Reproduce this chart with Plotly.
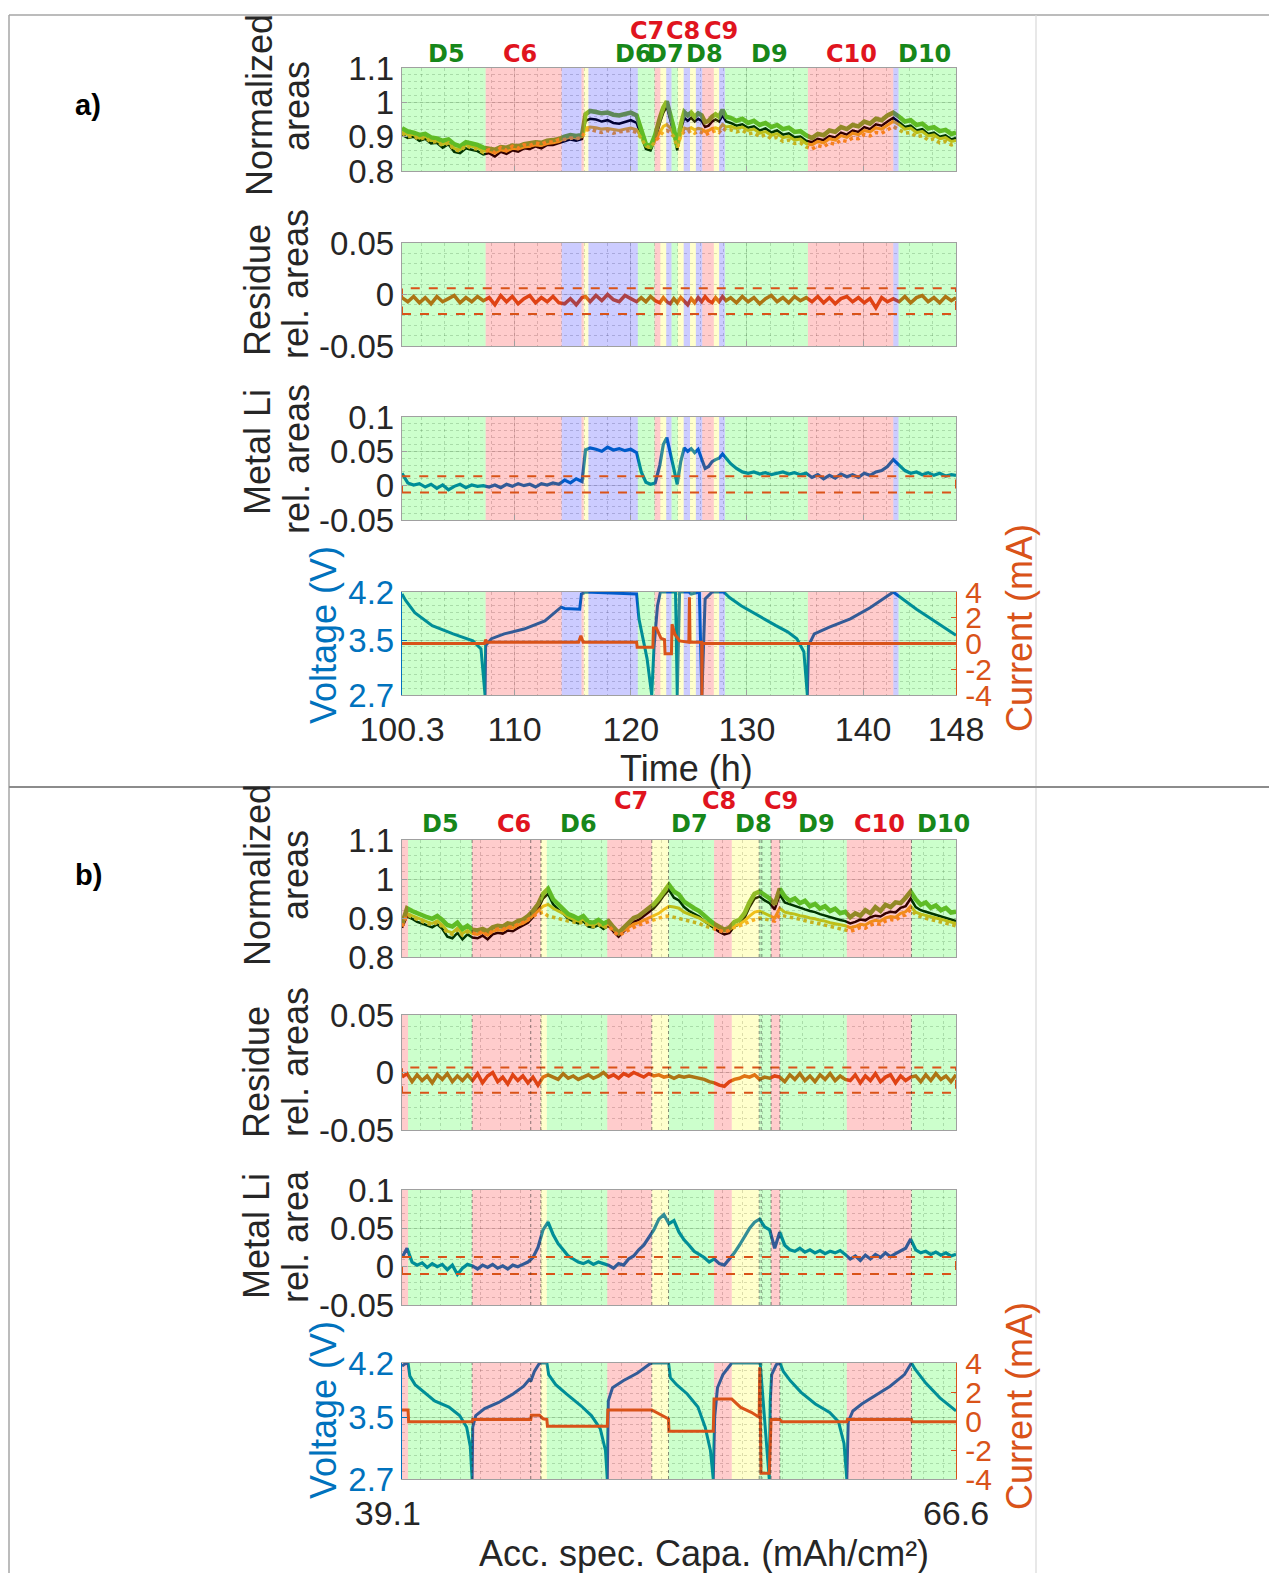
import plotly.graph_objects as go

W, H = 1269, 1573

# ===================== PANEL a : time (h) =====================
A_T = [100.3, 100.8, 101.3, 101.8, 102.3, 102.8, 103.3, 103.8, 104.3, 104.8,
       105.3, 105.8, 106.3, 106.8, 107.3, 107.8, 108.3, 108.8, 109.3, 109.8,
       110.3, 110.8, 111.3, 111.8, 112.3, 112.8, 113.3, 113.8, 114.3, 114.8,
       115.3, 115.8, 116.1, 116.5, 117.0, 117.5, 118.0, 118.5, 119.0, 119.5,
       120.0, 120.5, 120.9, 121.3, 121.7, 122.1, 122.5, 122.8, 123.1, 123.4,
       123.7, 124.0, 124.3, 124.6, 124.9, 125.2, 125.5, 125.8, 126.1, 126.4,
       126.7, 127.0, 127.3, 127.6, 127.9, 128.2, 128.6, 129.1, 129.6, 130.1,
       130.6, 131.1, 131.6, 132.1, 132.6, 133.1, 133.6, 134.1, 134.6, 135.1,
       135.6, 136.1, 136.6, 137.1, 137.6, 138.1, 138.6, 139.1, 139.6, 140.1,
       140.6, 141.1, 141.6, 142.1, 142.6, 143.1, 143.6, 144.1, 144.6, 145.1,
       145.6, 146.1, 146.6, 147.1, 147.6, 148.0]

A_GREEN = [0.925, 0.915, 0.912, 0.905, 0.908, 0.898, 0.895, 0.888, 0.892, 0.878,
           0.872, 0.884, 0.880, 0.876, 0.868, 0.866, 0.862, 0.870, 0.868, 0.874,
           0.872, 0.878, 0.880, 0.884, 0.882, 0.888, 0.890, 0.893, 0.900, 0.905,
           0.902, 0.905, 0.965, 0.975, 0.972, 0.968, 0.970, 0.964, 0.962, 0.966,
           0.970, 0.962, 0.915, 0.878, 0.872, 0.905, 0.955, 0.985, 1.003, 0.965,
           0.925, 0.872, 0.935, 0.972, 0.962, 0.970, 0.958, 0.968, 0.962, 0.942,
           0.946, 0.958, 0.965, 0.958, 0.978, 0.958, 0.955, 0.946, 0.952, 0.940,
           0.946, 0.934, 0.940, 0.928, 0.934, 0.922, 0.926, 0.914, 0.916, 0.904,
           0.896, 0.908, 0.904, 0.918, 0.914, 0.928, 0.922, 0.934, 0.930, 0.944,
           0.938, 0.952, 0.948, 0.962, 0.970, 0.958, 0.944, 0.948, 0.934, 0.938,
           0.924, 0.928, 0.916, 0.920, 0.908, 0.912]
A_BLACK = [0.905, 0.896, 0.900, 0.888, 0.894, 0.880, 0.882, 0.868, 0.878, 0.856,
           0.852, 0.866, 0.862, 0.858, 0.848, 0.852, 0.842, 0.856, 0.850, 0.860,
           0.856, 0.866, 0.864, 0.872, 0.866, 0.876, 0.876, 0.882, 0.886, 0.892,
           0.888, 0.893, 0.946, 0.952, 0.950, 0.944, 0.948, 0.940, 0.938, 0.944,
           0.948, 0.940, 0.902, 0.864, 0.860, 0.892, 0.940, 0.970, 0.988, 0.950,
           0.910, 0.860, 0.920, 0.955, 0.946, 0.955, 0.944, 0.952, 0.946, 0.928,
           0.932, 0.944, 0.950, 0.944, 0.962, 0.944, 0.940, 0.932, 0.936, 0.926,
           0.930, 0.918, 0.924, 0.912, 0.918, 0.906, 0.910, 0.898, 0.900, 0.888,
           0.884, 0.894, 0.890, 0.902, 0.898, 0.912, 0.906, 0.918, 0.914, 0.928,
           0.922, 0.936, 0.932, 0.944, 0.955, 0.942, 0.928, 0.932, 0.918, 0.922,
           0.908, 0.912, 0.900, 0.904, 0.892, 0.896]
A_YELLOW = [0.915, 0.906, 0.906, 0.896, 0.901, 0.889, 0.889, 0.878, 0.885, 0.866,
            0.862, 0.876, 0.872, 0.868, 0.858, 0.858, 0.852, 0.862, 0.858, 0.866,
            0.864, 0.870, 0.872, 0.876, 0.874, 0.880, 0.882, 0.886, 0.894, 0.898,
            0.896, 0.900, 0.925, 0.928, 0.926, 0.922, 0.924, 0.920, 0.918, 0.922,
            0.925, 0.920, 0.900, 0.872, 0.868, 0.890, 0.915, 0.930, 0.935, 0.925,
            0.905, 0.868, 0.905, 0.925, 0.922, 0.926, 0.920, 0.924, 0.922, 0.915,
            0.918, 0.924, 0.926, 0.922, 0.935, 0.928, 0.930, 0.924, 0.928, 0.918,
            0.922, 0.910, 0.915, 0.904, 0.909, 0.897, 0.901, 0.890, 0.893, 0.880,
            0.876, 0.886, 0.882, 0.894, 0.890, 0.903, 0.898, 0.910, 0.906, 0.918,
            0.914, 0.926, 0.922, 0.934, 0.945, 0.935, 0.922, 0.925, 0.912, 0.915,
            0.902, 0.905, 0.894, 0.897, 0.886, 0.889]
A_ORANGE = [0.910, 0.900, 0.902, 0.892, 0.898, 0.884, 0.886, 0.874, 0.882, 0.862,
            0.858, 0.874, 0.866, 0.864, 0.854, 0.862, 0.854, 0.868, 0.860, 0.872,
            0.866, 0.876, 0.874, 0.882, 0.878, 0.886, 0.884, 0.892, 0.892, 0.896,
            0.894, 0.898, 0.918, 0.922, 0.916, 0.912, 0.918, 0.910, 0.914, 0.916,
            0.918, 0.912, 0.896, 0.872, 0.868, 0.886, 0.905, 0.915, 0.918, 0.912,
            0.900, 0.870, 0.902, 0.915, 0.912, 0.918, 0.910, 0.916, 0.912, 0.905,
            0.910, 0.915, 0.918, 0.912, 0.925, 0.918, 0.920, 0.914, 0.918, 0.908,
            0.911, 0.900, 0.905, 0.894, 0.898, 0.886, 0.890, 0.880, 0.882, 0.870,
            0.864, 0.874, 0.870, 0.882, 0.878, 0.890, 0.886, 0.896, 0.894, 0.906,
            0.902, 0.912, 0.910, 0.920, 0.930, 0.920, 0.910, 0.912, 0.900, 0.903,
            0.890, 0.894, 0.882, 0.886, 0.876, 0.880]
A_RESID = [-0.003, -0.007, -0.002, -0.008, -0.003, -0.009, -0.002, -0.007, -0.004, -0.001,
           -0.008, -0.003, -0.007, -0.002, -0.006, -0.003, -0.010, -0.001, -0.007, -0.002,
           -0.009, -0.004, -0.001, -0.008, -0.003, -0.007, -0.002, -0.008, -0.009, -0.004,
           -0.010, -0.003, -0.002, -0.007, -0.001, -0.006, 0.000, -0.005, -0.007, -0.001,
           -0.004, -0.007, -0.003, -0.007, -0.002, -0.006, -0.008, -0.003, -0.007, -0.009,
           -0.004, -0.008, -0.003, -0.007, -0.010, -0.004, -0.008, -0.003, -0.007, -0.002,
           -0.006, -0.008, -0.003, -0.007, -0.002, -0.006, -0.003, -0.008, -0.002, -0.007,
           -0.003, -0.009, -0.004, -0.001, -0.007, -0.003, -0.008, -0.002, -0.006, -0.003,
           -0.007, -0.002, -0.008, -0.003, -0.009, -0.004, -0.002, -0.007, -0.003, -0.008,
           -0.004, -0.013, -0.003, -0.007, -0.004, -0.007, -0.002, -0.008, -0.003, -0.001,
           -0.007, -0.003, -0.008, -0.002, -0.006, -0.003]
A_METAL = [0.018, 0.004, 0.001, 0.003, -0.002, 0.002, -0.004, 0.001, -0.006, -0.001,
           0.002, -0.003, 0.001, -0.001, 0.000, -0.002, 0.001, -0.003, 0.002, -0.001,
           0.003, 0.000, 0.002, -0.002, 0.003, 0.001, 0.004, 0.002, 0.008, 0.004,
           0.010, 0.006, 0.052, 0.055, 0.053, 0.050, 0.056, 0.052, 0.054, 0.051,
           0.053, 0.048, 0.020, 0.005, 0.002, 0.004, 0.030, 0.060, 0.070, 0.045,
           0.025, 0.002, 0.035, 0.055, 0.050, 0.054, 0.048, 0.053, 0.040, 0.025,
           0.028, 0.035, 0.038, 0.040, 0.046, 0.040, 0.032, 0.025, 0.020, 0.018,
           0.020, 0.017, 0.019, 0.016, 0.018, 0.020, 0.017, 0.019, 0.016, 0.018,
           0.012, 0.016, 0.010, 0.015, 0.011, 0.017, 0.013, 0.016, 0.012, 0.018,
           0.015, 0.020, 0.022, 0.028, 0.038, 0.030, 0.022, 0.018, 0.020, 0.016,
           0.019, 0.015, 0.018, 0.014, 0.016, 0.015]

A_V_T = [100.3, 100.6, 101.4, 102.9, 104.7, 106.4, 107.1, 107.45,
         107.5, 108.0, 109.1, 110.8, 112.6, 114.0, 114.3, 115.6, 115.75, 116.1, 120.5,
         120.7, 121.4, 121.8, 122.0, 122.3, 122.55, 123.85, 124.0, 124.2, 125.0, 125.2,
         125.9, 126.12, 126.4, 127.0, 128.0,
         128.5, 129.5, 131.0, 132.5, 133.5, 134.3, 134.9, 135.2,
         135.3, 135.8, 137.1, 138.9, 140.6, 142.4, 142.6, 143.0, 144.6, 146.3, 148.0]
A_V = [4.17, 4.08, 3.90, 3.71, 3.59, 3.49, 3.37, 2.70,
       3.42, 3.52, 3.59, 3.66, 3.78, 3.98, 3.96, 3.95, 4.17, 4.20, 4.17,
       3.81, 3.23, 2.70, 3.40, 4.00, 4.20, 4.20, 2.70, 4.20, 4.20, 4.17,
       4.20, 2.70, 4.10, 4.20, 4.20,
       4.12, 4.00, 3.85, 3.71, 3.62, 3.52, 3.33, 2.70,
       3.42, 3.59, 3.69, 3.81, 3.97, 4.17, 4.20, 4.15, 3.95, 3.76, 3.57]
A_I_T = [100.3, 107.4, 107.5, 107.6, 115.5, 115.7, 115.9, 120.5, 120.55, 121.9,
         121.95, 122.2, 122.6, 122.9, 122.95, 123.5, 123.55, 123.8, 124.2, 125.0,
         125.05, 125.1, 126.1, 126.12, 126.15, 128.0, 148.0]
A_I = [0.0, 0.0, 0.3, 0.1, 0.1, 0.6, 0.1, 0.1, -0.3, -0.3,
       1.2, 1.2, 0.4, 0.3, -0.8, -0.8, 1.5, 0.7, 0.2, 0.1,
       3.6, 0.1, 0.1, -4.0, 0.0, 0.0, 0.0]

A_REG_START = [100.3, 107.5, 114.05, 115.75, 115.95, 116.35, 120.6, 122.05, 122.55, 123.05,
               123.5, 124.05, 124.55, 125.1, 125.6, 126.15, 127.15, 127.6, 128.1, 135.25,
               142.6, 143.05]
A_REG_END = [107.5, 114.05, 115.75, 115.95, 116.35, 120.6, 122.05, 122.55, 123.05, 123.5,
             124.05, 124.55, 125.1, 125.6, 126.15, 127.15, 127.6, 128.1, 135.25, 142.6,
             143.05, 148.0]
A_REG_KIND = ["G", "R", "B", "R", "Y", "B", "G", "R", "Y", "B",
              "G", "Y", "B", "Y", "B", "R", "Y", "B", "G", "R",
              "B", "G"]
A_PHASES = ["D5", "C6", "D6", "C7", "D7", "C8", "D8", "C9", "D9", "C10", "D10"]
A_PHASE_X = [104.1, 110.5, 120.2, 121.4, 123.0, 124.5, 126.35, 127.8, 131.96, 139.0, 145.3]
A_XTICKS = [100.3, 110, 120, 130, 140, 148]
A_XTICK_TXT = ["100.3", "110", "120", "130", "140", "148"]
A_RES_BAND = [-0.0189, 0.0061]
A_LI_BAND = [-0.010, 0.0137]

# ===================== PANEL b : acc. spec. capacity =====================
B_C = [39.10, 39.35, 39.60, 39.85, 40.10, 40.35, 40.60, 40.85, 41.10, 41.35,
       41.60, 41.85, 42.10, 42.35, 42.60, 42.85, 43.10, 43.35, 43.60, 43.85,
       44.10, 44.35, 44.60, 44.85, 45.10, 45.35, 45.60, 45.85, 46.10, 46.35,
       46.60, 46.85, 47.10, 47.35, 47.60, 47.85, 48.10, 48.35, 48.60, 48.85,
       49.10, 49.35, 49.60, 49.85, 50.10, 50.35, 50.60, 50.85, 51.10, 51.35,
       51.60, 51.85, 52.10, 52.35, 52.60, 52.85, 53.10, 53.35, 53.60, 53.85,
       54.10, 54.35, 54.60, 54.85, 55.10, 55.35, 55.60, 55.85, 56.10, 56.35,
       56.60, 56.85, 57.10, 57.35, 57.60, 57.85, 58.10, 58.35, 58.60, 58.85,
       59.10, 59.35, 59.60, 59.85, 60.10, 60.35, 60.60, 60.85, 61.10, 61.35,
       61.60, 61.85, 62.10, 62.35, 62.60, 62.85, 63.10, 63.35, 63.60, 63.85,
       64.10, 64.35, 64.60, 64.85, 65.10, 65.35, 65.60, 65.85, 66.10, 66.35,
       66.60]
B_GREEN = [0.885, 0.925, 0.918, 0.912, 0.906, 0.902, 0.898, 0.905, 0.895, 0.882,
           0.878, 0.888, 0.872, 0.880, 0.870, 0.868, 0.872, 0.866, 0.876, 0.880,
           0.878, 0.886, 0.884, 0.892, 0.896, 0.905, 0.918, 0.935, 0.962, 0.975,
           0.948, 0.935, 0.925, 0.910, 0.905, 0.898, 0.905, 0.890, 0.888, 0.895,
           0.885, 0.892, 0.876, 0.862, 0.875, 0.888, 0.900, 0.905, 0.915, 0.925,
           0.935, 0.950, 0.968, 0.985, 0.968, 0.960, 0.942, 0.932, 0.925, 0.918,
           0.905, 0.895, 0.885, 0.878, 0.870, 0.875, 0.890, 0.895, 0.912, 0.940,
           0.962, 0.968, 0.958, 0.950, 0.935, 0.975, 0.955, 0.944, 0.950, 0.938,
           0.944, 0.930, 0.936, 0.924, 0.930, 0.918, 0.924, 0.912, 0.916, 0.902,
           0.912, 0.906, 0.920, 0.912, 0.928, 0.918, 0.934, 0.928, 0.940, 0.938,
           0.952, 0.968, 0.948, 0.934, 0.940, 0.926, 0.932, 0.920, 0.926, 0.914,
           0.916]
B_BLACK = [0.875, 0.905, 0.898, 0.890, 0.886, 0.880, 0.876, 0.884, 0.872, 0.852,
           0.848, 0.862, 0.845, 0.858, 0.850, 0.848, 0.855, 0.845, 0.858, 0.862,
           0.860, 0.868, 0.866, 0.874, 0.880, 0.888, 0.902, 0.922, 0.950, 0.962,
           0.935, 0.922, 0.912, 0.898, 0.892, 0.886, 0.892, 0.878, 0.876, 0.882,
           0.872, 0.880, 0.865, 0.852, 0.865, 0.878, 0.890, 0.895, 0.905, 0.915,
           0.925, 0.940, 0.958, 0.972, 0.952, 0.945, 0.928, 0.918, 0.910, 0.904,
           0.892, 0.882, 0.872, 0.864, 0.858, 0.862, 0.878, 0.884, 0.900, 0.928,
           0.950, 0.955, 0.945, 0.938, 0.922, 0.960, 0.940, 0.935, 0.930, 0.926,
           0.922, 0.918, 0.915, 0.910, 0.906, 0.902, 0.898, 0.895, 0.892, 0.886,
           0.890, 0.896, 0.894, 0.902, 0.906, 0.904, 0.912, 0.916, 0.914, 0.926,
           0.930, 0.950, 0.928, 0.920, 0.916, 0.912, 0.908, 0.905, 0.900, 0.898,
           0.892]
B_YELLOW = [0.880, 0.912, 0.906, 0.900, 0.895, 0.890, 0.886, 0.893, 0.882, 0.866,
            0.862, 0.874, 0.860, 0.868, 0.860, 0.858, 0.864, 0.856, 0.866, 0.870,
            0.868, 0.876, 0.874, 0.882, 0.886, 0.894, 0.906, 0.918, 0.930, 0.935,
            0.925, 0.918, 0.912, 0.902, 0.898, 0.892, 0.897, 0.884, 0.882, 0.888,
            0.878, 0.884, 0.870, 0.858, 0.868, 0.876, 0.884, 0.888, 0.894, 0.900,
            0.905, 0.912, 0.922, 0.930, 0.928, 0.925, 0.915, 0.910, 0.905, 0.900,
            0.892, 0.885, 0.878, 0.872, 0.866, 0.870, 0.880, 0.884, 0.893, 0.905,
            0.915, 0.918, 0.912, 0.905, 0.900, 0.925, 0.915, 0.912, 0.910, 0.906,
            0.904, 0.900, 0.898, 0.894, 0.892, 0.888, 0.885, 0.882, 0.880, 0.875,
            0.878, 0.884, 0.882, 0.890, 0.894, 0.892, 0.900, 0.904, 0.902, 0.912,
            0.916, 0.930, 0.915, 0.910, 0.906, 0.902, 0.900, 0.897, 0.893, 0.890,
            0.886]
B_ORANGE = [0.878, 0.908, 0.902, 0.896, 0.891, 0.886, 0.882, 0.889, 0.878, 0.862,
            0.858, 0.870, 0.856, 0.865, 0.862, 0.858, 0.866, 0.855, 0.868, 0.872,
            0.870, 0.878, 0.876, 0.884, 0.888, 0.896, 0.905, 0.912, 0.915, 0.905,
            0.902, 0.898, 0.896, 0.892, 0.890, 0.886, 0.890, 0.880, 0.878, 0.884,
            0.875, 0.880, 0.866, 0.855, 0.862, 0.870, 0.876, 0.882, 0.886, 0.890,
            0.895, 0.900, 0.904, 0.905, 0.902, 0.900, 0.895, 0.892, 0.890, 0.886,
            0.880, 0.876, 0.872, 0.868, 0.864, 0.868, 0.876, 0.880, 0.886, 0.892,
            0.896, 0.900, 0.898, 0.895, 0.892, 0.908, 0.904, 0.902, 0.900, 0.896,
            0.894, 0.890, 0.888, 0.885, 0.882, 0.878, 0.875, 0.872, 0.870, 0.866,
            0.870, 0.876, 0.874, 0.882, 0.886, 0.884, 0.892, 0.896, 0.894, 0.904,
            0.908, 0.922, 0.908, 0.903, 0.899, 0.896, 0.893, 0.890, 0.887, 0.884,
            0.880]
B_RESID = [-0.004, -0.001, -0.008, -0.002, -0.007, -0.003, -0.009, -0.002, -0.006, -0.001,
           -0.008, -0.003, -0.007, -0.002, -0.007, -0.001, -0.009, -0.003, 0.000, -0.008,
           -0.004, -0.010, -0.002, -0.007, -0.003, -0.009, -0.004, -0.011, -0.004, -0.002,
           -0.004, -0.006, -0.001, -0.005, -0.003, -0.006, -0.004, -0.002, -0.005, -0.003,
           0.000, -0.004, -0.002, -0.005, -0.001, -0.003, 0.000, -0.002, -0.004, -0.001,
           -0.003, -0.002, -0.004, -0.003, -0.005, -0.003, -0.004, -0.003, -0.004, -0.005,
           -0.006, -0.008, -0.009, -0.011, -0.012, -0.008, -0.006, -0.005, -0.003, -0.004,
           -0.002, -0.006, -0.004, -0.005, -0.003, -0.004, -0.008, -0.002, -0.006, -0.001,
           -0.007, -0.003, -0.008, -0.002, -0.006, -0.001, -0.007, -0.003, -0.006, -0.007,
           -0.002, -0.009, -0.003, -0.007, -0.001, -0.008, -0.004, -0.002, -0.009, -0.003,
           -0.007, -0.004, -0.003, -0.008, -0.002, -0.007, -0.001, -0.006, -0.003, -0.008,
           -0.002]
B_METAL = [0.012, 0.024, 0.006, 0.002, 0.005, -0.001, 0.004, 0.000, 0.003, -0.004,
           0.002, -0.010, -0.002, 0.003, 0.001, -0.003, 0.002, -0.001, 0.003, -0.002,
           0.001, -0.003, 0.002, 0.000, 0.003, 0.006, 0.012, 0.025, 0.048, 0.058,
           0.042, 0.030, 0.022, 0.014, 0.010, 0.006, 0.004, 0.007, 0.003, 0.006,
           0.004, 0.002, -0.002, 0.004, 0.002, 0.010, 0.014, 0.022, 0.028, 0.038,
           0.048, 0.062, 0.068, 0.056, 0.060, 0.045, 0.035, 0.028, 0.020, 0.016,
           0.012, 0.006, 0.010, 0.004, 0.002, 0.010, 0.018, 0.028, 0.040, 0.050,
           0.058, 0.062, 0.052, 0.048, 0.024, 0.045, 0.028, 0.022, 0.020, 0.024,
           0.019, 0.022, 0.018, 0.021, 0.017, 0.020, 0.018, 0.021, 0.016, 0.010,
           0.014, 0.008, 0.015, 0.010, 0.016, 0.012, 0.018, 0.013, 0.017, 0.020,
           0.024, 0.036, 0.022, 0.018, 0.020, 0.016, 0.019, 0.015, 0.018, 0.014,
           0.016]

B_V_C = [39.10, 39.31, 39.40, 39.49, 39.75, 40.19, 40.72, 41.43, 41.96, 42.31, 42.49, 42.58,
         42.61, 42.76, 43.20, 43.90, 44.61, 45.14, 45.46, 45.49, 45.67, 45.93, 46.29,
         46.38, 46.73, 47.26, 47.97, 48.50, 48.94, 49.20, 49.29,
         49.34, 49.55, 50.08, 50.79, 51.41, 51.50, 52.33,
         52.42, 52.73, 53.26, 53.79, 54.15, 54.41, 54.55,
         54.62, 54.76, 55.03, 55.47, 56.88, 57.33,
         57.38, 57.45, 57.68, 57.86,
         58.03, 58.38, 58.91, 59.62, 60.33, 60.77, 61.04, 61.18,
         61.25, 61.48, 61.92, 62.62, 63.33, 64.04, 64.39,
         64.57, 65.10, 65.80, 66.60]
B_V = [4.16, 4.20, 4.20, 4.03, 3.92, 3.82, 3.71, 3.63, 3.52, 3.37, 3.12, 2.70,
       3.37, 3.52, 3.61, 3.69, 3.80, 3.90, 4.00, 3.96, 4.09, 4.20, 4.20,
       4.05, 3.92, 3.80, 3.65, 3.52, 3.35, 3.07, 2.70,
       3.71, 3.88, 3.97, 4.07, 4.19, 4.20, 4.20,
       4.01, 3.92, 3.80, 3.63, 3.37, 3.07, 2.70,
       3.50, 3.88, 4.05, 4.20, 4.20, 2.70,
       3.71, 4.05, 4.18, 4.20,
       4.09, 3.97, 3.82, 3.67, 3.56, 3.44, 3.16, 2.70,
       3.44, 3.58, 3.67, 3.78, 3.90, 4.05, 4.20,
       4.12, 3.94, 3.75, 3.58]
B_I_C = [39.10, 39.40, 39.43, 42.58, 42.61, 45.49, 45.52, 45.93, 46.11, 46.29,
         46.32, 49.29, 49.32, 51.50, 52.33, 52.35, 54.55, 54.59, 55.47, 55.91,
         56.44, 56.83, 56.86, 56.92, 57.33, 57.42, 57.86, 57.95, 61.18, 61.21,
         64.39, 64.42, 66.60]
B_I = [0.76, 0.76, -0.05, -0.05, 0.10, 0.10, 0.40, 0.40, 0.15, 0.10,
       -0.37, -0.37, 0.76, 0.76, 0.15, -0.70, -0.70, 1.51, 1.51, 0.94,
       0.60, 0.26, 3.70, -3.60, -3.60, 0.10, 0.10, -0.05, -0.05, 0.10,
       0.10, -0.05, -0.05]

B_REG_START = [39.1, 39.4, 42.58, 45.99, 46.29, 49.29, 51.5, 52.33, 54.59, 55.47,
               56.83, 57.42, 57.86, 61.18, 64.39]
B_REG_END = [39.4, 42.58, 45.99, 46.29, 49.29, 51.5, 52.33, 54.59, 55.47, 56.83,
             57.42, 57.86, 61.18, 64.39, 66.6]
B_REG_KIND = ["R", "G", "R", "Y", "G", "R", "Y", "G", "R", "Y",
              "G", "R", "G", "R", "G"]
B_BOUND_LINES = [42.58, 45.49, 45.99, 51.5, 52.33, 56.83, 56.93, 57.42, 57.86, 64.39]
B_PHASES = ["D5", "C6", "D6", "C7", "D7", "C8", "D8", "C9", "D9", "C10", "D10"]
B_PHASE_X = [40.99, 44.67, 47.85, 50.49, 53.37, 54.86, 56.55, 57.9, 59.69, 62.82, 65.96]
B_XTICKS = [39.1, 66.6]
B_XTICK_TXT = ["39.1\u00a0\u00a0\u00a0", "66.6"]
B_RES_BAND = [-0.0177, 0.0043]
B_LI_BAND = [-0.0095, 0.0126]

for arr in (A_GREEN, A_BLACK, A_YELLOW, A_ORANGE, A_RESID, A_METAL):
    assert len(arr) == len(A_T), len(arr)
for arr in (B_GREEN, B_BLACK, B_YELLOW, B_ORANGE, B_RESID, B_METAL):
    assert len(arr) == len(B_C), len(arr)
assert len(A_V) == len(A_V_T) and len(A_I) == len(A_I_T)
assert len(B_V) == len(B_V_C) and len(B_I) == len(B_I_C)

# ===================== styling =====================
REG_COLORS = {"G": "rgba(0,255,0,0.2)", "R": "rgba(255,0,0,0.2)",
              "B": "rgba(0,0,255,0.2)", "Y": "rgba(255,255,0,0.2)"}
C_BLUE = "#0072BD"
C_ORANGE = "#D95319"
C_TXT = "#262626"
FONT = "Liberation Sans"
TICK_FS = 33
LAB_FS = 36
PH_GREEN = "#17871a"
PH_RED = "#e0141e"

X_L, X_R = 402, 956
PANEL_ROWS = {
    "a": [(68, 171), (243, 346), (417, 520), (592, 695)],
    "b": [(840, 957), (1015, 1130), (1190, 1305), (1363, 1479)],
}
Y_RANGES = [(0.8, 1.1), (-0.05, 0.05), (-0.05, 0.1), (2.7, 4.2)]
Y_TICKS = [[0.8, 0.9, 1.0, 1.1], [-0.05, 0, 0.05], [-0.05, 0, 0.05, 0.1], [2.7, 3.5, 4.2]]
Y_TTXT = [["0.8", "0.9", "1", "1.1"], ["-0.05", "0", "0.05"],
          ["-0.05", "0", "0.05", "0.1"], ["2.7", "3.5", "4.2"]]
Y_MINOR = [0.02, 0.01, 0.01, 0.1]

fig = go.Figure()
layout = dict(template="none", width=W, height=H, autosize=False,
              margin=dict(l=0, r=0, t=0, b=0, pad=0, autoexpand=False),
              paper_bgcolor="white", plot_bgcolor="white", showlegend=False)
annotations = []
shapes = []


def sfx(i):
    return "" if i == 1 else str(i)


def add_regions(i, starts, ends, kinds, ylo, yhi):
    for k, col in REG_COLORS.items():
        xs, ys = [], []
        for s, e, kk in zip(starts, ends, kinds):
            if kk == k:
                xs += [s, e, e, s, s, None]
                ys += [ylo, ylo, yhi, yhi, ylo, None]
        if xs:
            fig.add_trace(go.Scatter(x=xs, y=ys, xaxis="x" + sfx(i), yaxis="y" + sfx(i),
                                     mode="lines", fill="toself", fillcolor=col,
                                     line=dict(width=0), hoverinfo="skip"))


def line(i, x, y, color, width, dash="solid", yaxis=None):
    fig.add_trace(go.Scatter(x=x, y=y, xaxis="x" + sfx(i), yaxis=yaxis or ("y" + sfx(i)),
                             mode="lines", line=dict(color=color, width=width, dash=dash),
                             hoverinfo="skip"))


def band(i, xr, b):
    x0, x1 = xr
    line(i, [x0, x1, x1, x0, x0], [b[0], b[0], b[1], b[1], b[0]], C_ORANGE, 2, dash="dash")


panels = [
    dict(key="a", base=1, cur=9, xr=(100.3, 148.0), x=A_T, green=A_GREEN, black=A_BLACK,
         yellow=A_YELLOW, orange=A_ORANGE, resid=A_RESID, metal=A_METAL,
         vx=A_V_T, v=A_V, ix=A_I_T, i=A_I, rs=A_REG_START, re=A_REG_END, rk=A_REG_KIND,
         ph=A_PHASES, phx=A_PHASE_X, xt=A_XTICKS, xtt=A_XTICK_TXT,
         rb=A_RES_BAND, lb=A_LI_BAND, minor=2, lab_low=54, lab_high=31,
         xtitle="Time (h)", xtitle_pos=(686, 768)),
    dict(key="b", base=5, cur=10, xr=(39.1, 66.6), x=B_C, green=B_GREEN, black=B_BLACK,
         yellow=B_YELLOW, orange=B_ORANGE, resid=B_RESID, metal=B_METAL,
         vx=B_V_C, v=B_V, ix=B_I_C, i=B_I, rs=B_REG_START, re=B_REG_END, rk=B_REG_KIND,
         ph=B_PHASES, phx=B_PHASE_X, xt=B_XTICKS, xtt=B_XTICK_TXT,
         rb=B_RES_BAND, lb=B_LI_BAND, minor=1, lab_low=824, lab_high=801,
         xtitle="Acc. spec. Capa. (mAh/cm²)", xtitle_pos=(704, 1553)),
]

for P in panels:
    rows = PANEL_ROWS[P["key"]]
    for j in range(4):
        i = P["base"] + j
        top, bot = rows[j]
        ylo, yhi = Y_RANGES[j]
        is_bottom = j == 3
        axcol = "#a0a0a0"
        layout["xaxis" + sfx(i)] = dict(
            domain=[X_L / W, X_R / W], anchor="y" + sfx(i), range=list(P["xr"]),
            tickmode="array", tickvals=P["xt"], ticktext=P["xtt"], automargin=False,
            showticklabels=is_bottom, ticks="inside", ticklen=5, tickcolor=axcol,
            showline=True, linecolor=axcol, linewidth=1.2, mirror=True,
            showgrid=True, gridcolor="rgba(38,38,38,0.15)", gridwidth=1,
            minor=dict(dtick=P["minor"], tick0=0, showgrid=True, griddash="dot",
                       gridcolor="rgba(38,38,38,0.2)", ticks=""),
            zeroline=False, tickfont=dict(family=FONT, size=TICK_FS + 1, color=C_TXT),
            ticklabelstandoff=4, fixedrange=True)
        ycol = C_BLUE if is_bottom else C_TXT
        layout["yaxis" + sfx(i)] = dict(
            domain=[1 - bot / H, 1 - top / H], anchor="x" + sfx(i), range=[ylo, yhi],
            tickmode="array", tickvals=Y_TICKS[j], ticktext=Y_TTXT[j], automargin=False,
            ticks="inside", ticklen=5, tickcolor=(C_BLUE if is_bottom else axcol),
            showline=True, linecolor=(C_BLUE if is_bottom else axcol), linewidth=1.2,
            mirror=(not is_bottom),
            showgrid=True, gridcolor="rgba(38,38,38,0.15)", gridwidth=1,
            minor=dict(dtick=Y_MINOR[j], showgrid=True, griddash="dot",
                       gridcolor="rgba(38,38,38,0.2)", ticks=""),
            zeroline=False, tickfont=dict(family=FONT, size=TICK_FS, color=ycol),
            ticklabelstandoff=0, fixedrange=True)

        # data lines (drawn first, so that the translucent phase patches tint them)
        if j == 0:
            line(i, P["x"], P["black"], "#000000", 2.5)
            line(i, P["x"], P["yellow"], "#EDB120", 3)
            line(i, P["x"], P["green"], "#77AC30", 4.5)
            line(i, P["x"], P["orange"], "#F5A028", 3.5, dash="dot")
        elif j == 1:
            line(i, P["x"], P["resid"], C_ORANGE, 3.5)
        elif j == 2:
            line(i, P["x"], P["metal"], C_BLUE, 3.2)
        else:
            line(i, P["vx"], P["v"], C_BLUE, 3)
        add_regions(i, P["rs"], P["re"], P["rk"], ylo, yhi)
        if j == 1:
            band(i, P["xr"], P["rb"])
        elif j == 2:
            band(i, P["xr"], P["lb"])
        if P["key"] == "b":
            for xb in B_BOUND_LINES:
                shapes.append(dict(type="line", xref="x" + sfx(i), yref="y" + sfx(i) + " domain",
                                   x0=xb, x1=xb, y0=0, y1=1, layer="above",
                                   line=dict(color="rgba(40,40,40,0.55)", width=1, dash="dot")))

    # current on the right axis (drawn above the patches)
    ci = P["cur"]
    vbase = P["base"] + 3
    layout["yaxis" + str(ci)] = dict(
        overlaying="y" + str(vbase), anchor="x" + str(vbase), side="right", range=[-4, 4],
        tickmode="array", tickvals=[-4, -2, 0, 2, 4], ticktext=["-4", "-2", "0", "2", "4"],
        ticks="inside", ticklen=5, tickcolor=C_ORANGE, showline=True, linecolor=C_ORANGE,
        linewidth=1.2, showgrid=False, zeroline=False, automargin=False,
        tickfont=dict(family=FONT, size=30, color=C_ORANGE), ticklabelstandoff=2,
        fixedrange=True)
    fig.add_trace(go.Scatter(x=P["ix"], y=P["i"], xaxis="x" + str(vbase), yaxis="y" + str(ci),
                             mode="lines", line=dict(color=C_ORANGE, width=3), hoverinfo="skip"))

    # phase labels
    for name, xp in zip(P["ph"], P["phx"]):
        upper = name in ("C7", "C8", "C9")
        annotations.append(dict(
            text=name, x=xp, xref="x" + sfx(P["base"]), yref="paper",
            y=1 - (P["lab_high"] if upper else P["lab_low"]) / H,
            showarrow=False, xanchor="center", yanchor="middle",
            font=dict(family="DejaVu Sans", size=24, color=(PH_RED if name.startswith("C") else PH_GREEN),
                      weight="bold")))

    # x title
    tx, ty = P["xtitle_pos"]
    annotations.append(dict(text=P["xtitle"], x=tx / W, y=1 - ty / H, xref="paper", yref="paper",
                            showarrow=False, xanchor="center", yanchor="middle",
                            font=dict(family=FONT, size=LAB_FS, color=C_TXT)))

# y-axis titles (two-line MATLAB style labels)
YT = [
    ("Normalized", 259, 105, C_TXT), ("areas", 297, 106, C_TXT),
    ("Residue", 257, 290, C_TXT), ("rel. areas", 296, 284, C_TXT),
    ("Metal Li", 257, 452, C_TXT), ("rel. areas", 296, 459, C_TXT),
    ("Voltage (V)", 323, 635, C_BLUE), ("Current (mA)", 1019, 628, C_ORANGE),
    ("Normalized", 257, 875, C_TXT), ("areas", 295, 875, C_TXT),
    ("Residue", 256, 1072, C_TXT), ("rel. areas", 295, 1062, C_TXT),
    ("Metal Li", 256, 1236, C_TXT), ("rel. area", 295, 1237, C_TXT),
    ("Voltage (V)", 323, 1410, C_BLUE), ("Current (mA)", 1019, 1406, C_ORANGE),
]
for txt, x, y, c in YT:
    annotations.append(dict(text=txt, x=x / W, y=1 - y / H, xref="paper", yref="paper",
                            textangle=-90, showarrow=False, xanchor="center", yanchor="middle",
                            font=dict(family=FONT, size=LAB_FS, color=c)))

# panel letters
for txt, y in (("a)", 105), ("b)", 875)):
    annotations.append(dict(text="<b>" + txt + "</b>", x=88 / W, y=1 - y / H, xref="paper",
                            yref="paper", showarrow=False, xanchor="center", yanchor="middle",
                            font=dict(family="Liberation Sans", size=29, color="#000000")))

# table borders of the source document
for (x0, y0, x1, y1, c, w) in [(9, 15, W, 15, "#a6a6a6", 1.5), (9, 15, 9, H, "#a6a6a6", 1.5),
                               (1036, 15, 1036, H, "#d9d9d9", 1.2), (9, 787, W, 787, "#8c8c8c", 2)]:
    shapes.append(dict(type="line", xref="paper", yref="paper", x0=x0 / W, x1=x1 / W,
                       y0=1 - y0 / H, y1=1 - y1 / H, line=dict(color=c, width=w), layer="above"))

layout["annotations"] = annotations
layout["shapes"] = shapes
fig.update_layout(**layout)

fig.write_html("out.html", config={"displayModeBar": False, "staticPlot": True},
               post_script="document.body.style.margin='0px';")
